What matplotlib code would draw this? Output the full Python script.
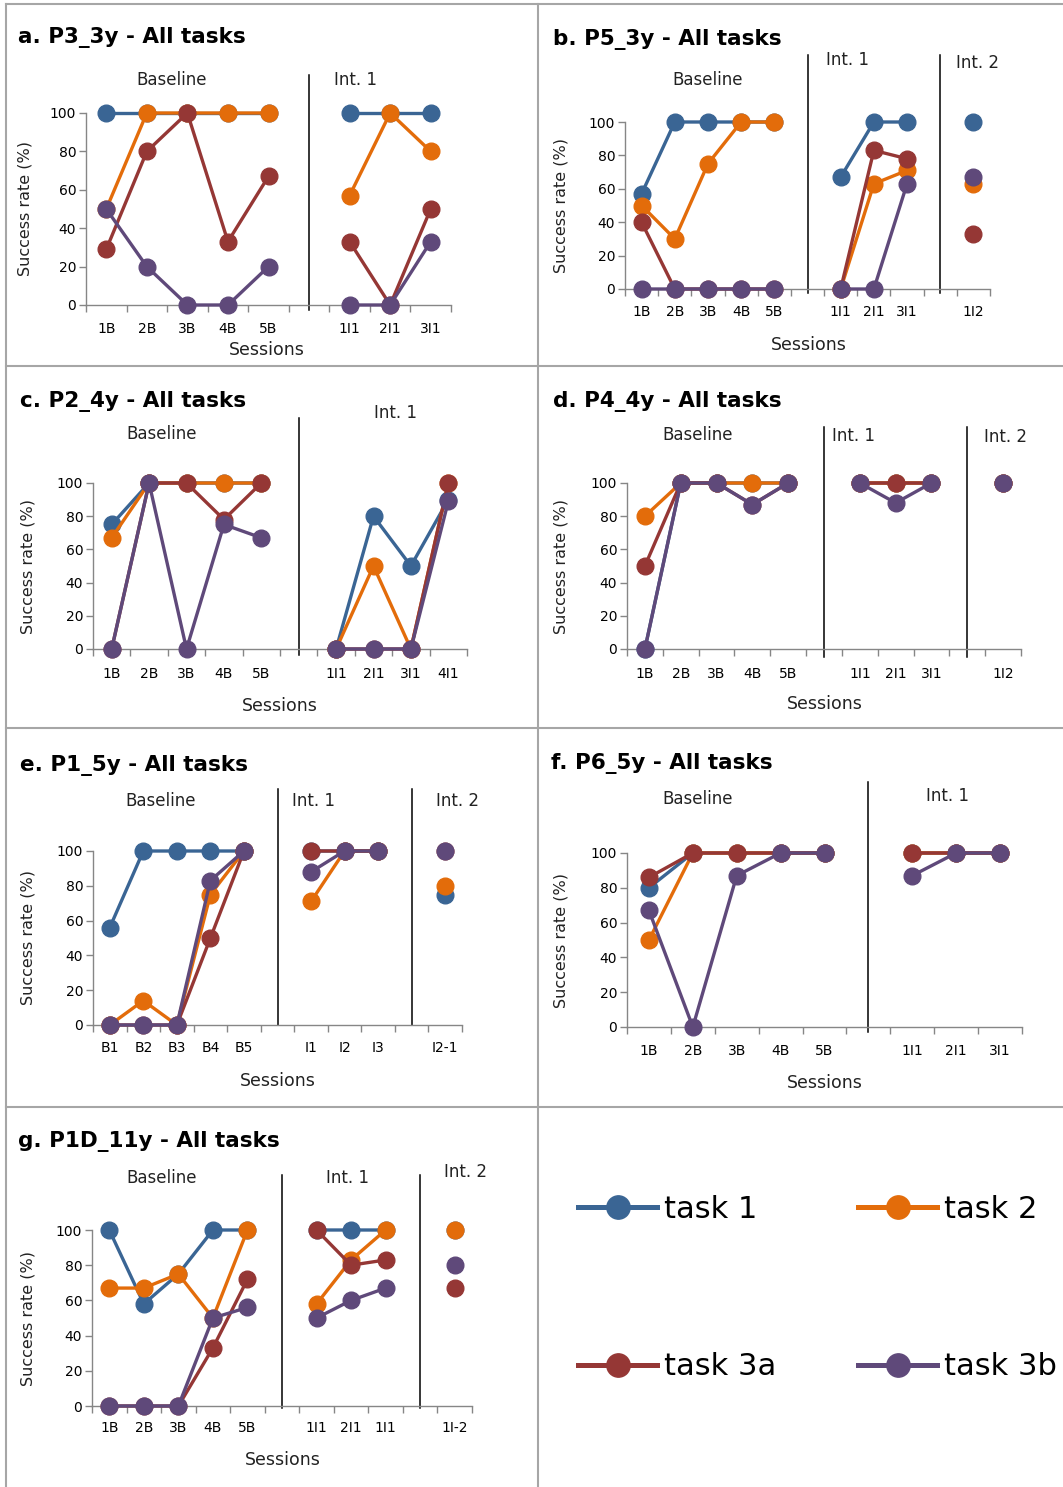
import numpy as np
import matplotlib
matplotlib.use("Agg")
import matplotlib.pyplot as plt
from matplotlib.lines import Line2D

W, H = 1063, 1487

TASKS = ["task 1", "task 2", "task 3a", "task 3b"]
COLORS = ["#3A6594", "#E36C0A", "#953735", "#5F497A"]
AXIS_GRAY = "#868686"
CELL_GRAY = "#A6A6A6"

N = None  # gap slot

# ---------------------------------------------------------------------------
# a. P3_3y
a_labels = ["1B", "2B", "3B", "4B", "5B", "", "1I1", "2I1", "3I1"]
a_task1 = [100, 100, 100, 100, 100, N, 100, 100, 100]
a_task2 = [50, 100, 100, 100, 100, N, 57, 100, 80]
a_task3a = [29, 80, 100, 33, 67, N, 33, 0, 50]
a_task3b = [50, 20, 0, 0, 20, N, 0, 0, 33]

# b. P5_3y
b_labels = ["1B", "2B", "3B", "4B", "5B", "", "1I1", "2I1", "3I1", "", "1I2"]
b_task1 = [57, 100, 100, 100, 100, N, 67, 100, 100, N, 100]
b_task2 = [50, 30, 75, 100, 100, N, 0, 63, 71, N, 63]
b_task3a = [40, 0, 0, 0, 0, N, 0, 83, 78, N, 33]
b_task3b = [0, 0, 0, 0, 0, N, 0, 0, 63, N, 67]

# c. P2_4y
c_labels = ["1B", "2B", "3B", "4B", "5B", "", "1I1", "2I1", "3I1", "4I1"]
c_task1 = [75, 100, 100, 100, 100, N, 0, 80, 50, 90]
c_task2 = [67, 100, 100, 100, 100, N, 0, 50, 0, 100]
c_task3a = [0, 100, 100, 78, 100, N, 0, 0, 0, 100]
c_task3b = [0, 100, 0, 75, 67, N, 0, 0, 0, 89]

# d. P4_4y
d_labels = ["1B", "2B", "3B", "4B", "5B", "", "1I1", "2I1", "3I1", "", "1I2"]
d_task1 = [0, 100, 100, 100, 100, N, 100, 100, 100, N, 100]
d_task2 = [80, 100, 100, 100, 100, N, 100, 100, 100, N, 100]
d_task3a = [50, 100, 100, 87, 100, N, 100, 100, 100, N, 100]
d_task3b = [0, 100, 100, 87, 100, N, 100, 88, 100, N, 100]

# e. P1_5y
e_labels = ["B1", "B2", "B3", "B4", "B5", "", "I1", "I2", "I3", "", "I2-1"]
e_task1 = [56, 100, 100, 100, 100, N, 100, 100, 100, N, 75]
e_task2 = [0, 14, 0, 75, 100, N, 71, 100, 100, N, 80]
e_task3a = [0, 0, 0, 50, 100, N, 100, 100, 100, N, 100]
e_task3b = [0, 0, 0, 83, 100, N, 88, 100, 100, N, 100]

# f. P6_5y
f_labels = ["1B", "2B", "3B", "4B", "5B", "", "1I1", "2I1", "3I1"]
f_task1 = [80, 100, 100, 100, 100, N, 100, 100, 100]
f_task2 = [50, 100, 100, 100, 100, N, 100, 100, 100]
f_task3a = [86, 100, 100, 100, 100, N, 100, 100, 100]
f_task3b = [67, 0, 87, 100, 100, N, 87, 100, 100]

# g. P1D_11y
g_labels = ["1B", "2B", "3B", "4B", "5B", "", "1I1", "2I1", "1I1", "", "1I-2"]
g_task1 = [100, 58, 75, 100, 100, N, 100, 100, 100, N, 100]
g_task2 = [67, 67, 75, 50, 100, N, 58, 83, 100, N, 100]
g_task3a = [0, 0, 0, 33, 72, N, 100, 80, 83, N, 67]
g_task3b = [0, 0, 0, 50, 56, N, 50, 60, 67, N, 80]

# ---------------------------------------------------------------------------
# layout, all in pixels measured from the top-left of the picture
panels = [
    dict(title="a. P3_3y - All tasks", labels=a_labels,
         series=[a_task1, a_task2, a_task3a, a_task3b],
         box=(86, 451, 305, 113), seps=[5], sep_span=(75, 310),
         title_xy=(18, 38), ylab_x=25, sess=(267, 350), tick_gap=25,
         phases=[("Baseline", 172, 80), ("Int. 1", 355, 80)]),
    dict(title="b. P5_3y - All tasks", labels=b_labels,
         series=[b_task1, b_task2, b_task3a, b_task3b],
         box=(625, 990, 289, 122), seps=[5, 9], sep_span=(55, 293),
         title_xy=(553, 39), ylab_x=561, sess=(809, 345), tick_gap=24,
         phases=[("Baseline", 708, 80), ("Int. 1", 848, 60), ("Int. 2", 978, 63)]),
    dict(title="c. P2_4y - All tasks", labels=c_labels,
         series=[c_task1, c_task2, c_task3a, c_task3b],
         box=(93, 467, 649, 483), seps=[5], sep_span=(418, 655),
         title_xy=(20, 402), ylab_x=28, sess=(280, 706), tick_gap=26,
         phases=[("Baseline", 162, 434), ("Int. 1", 396, 413)]),
    dict(title="d. P4_4y - All tasks", labels=d_labels,
         series=[d_task1, d_task2, d_task3a, d_task3b],
         box=(627, 1021, 649, 483), seps=[5, 9], sep_span=(427, 657),
         title_xy=(553, 401), ylab_x=561, sess=(825, 704), tick_gap=26,
         phases=[("Baseline", 698, 435), ("Int. 1", 853, 436), ("Int. 2", 1005, 437)]),
    dict(title="e. P1_5y - All tasks", labels=e_labels,
         series=[e_task1, e_task2, e_task3a, e_task3b],
         box=(93, 462, 1025, 851), seps=[5, 9], sep_span=(789, 1025),
         title_xy=(20, 765), ylab_x=28, sess=(278, 1081), tick_gap=24,
         phases=[("Baseline", 161, 801), ("Int. 1", 313, 801), ("Int. 2", 458, 801)]),
    dict(title="f. P6_5y - All tasks", labels=f_labels,
         series=[f_task1, f_task2, f_task3a, f_task3b],
         box=(627, 1022, 1027, 853), seps=[5], sep_span=(782, 1032),
         title_xy=(551, 764), ylab_x=561, sess=(825, 1083), tick_gap=25,
         phases=[("Baseline", 698, 799), ("Int. 1", 947, 796)]),
    dict(title="g. P1D_11y - All tasks", labels=g_labels,
         series=[g_task1, g_task2, g_task3a, g_task3b],
         box=(92, 472, 1406, 1230), seps=[5, 9], sep_span=(1175, 1408),
         title_xy=(18, 1142), ylab_x=28, sess=(283, 1460), tick_gap=23,
         phases=[("Baseline", 162, 1178), ("Int. 1", 347, 1178), ("Int. 2", 466, 1172)]),
]


def fx(px):
    return px / W


def fy(py):
    return 1 - py / H


fig = plt.figure(figsize=(W / 100, H / 100), dpi=100)
fig.patch.set_facecolor("white")

# cell borders
for xs, ys in [((6, 6), (4, H)), ((6, W), (4, 4)), ((538, 538), (4, H)),
               ((6, W), (366, 366)), ((6, W), (728, 728)), ((6, W), (1107, 1107))]:
    fig.add_artist(Line2D([fx(x) for x in xs], [fy(y) for y in ys],
                          color=CELL_GRAY, lw=1.5))

handles = None
for p in panels:
    left, right, y0, y100 = p["box"]
    ax = fig.add_axes([fx(left), fy(y0), (right - left) / W, (y0 - y100) / H])
    n = len(p["labels"])
    x = np.arange(n)
    lines = []
    for k, vals in enumerate(p["series"]):
        y = np.array(vals, dtype=float)
        ln, = ax.plot(x, y, color=COLORS[k], lw=2.4, marker="o", ms=12,
                      mec=COLORS[k], clip_on=False, zorder=3 + k, label=TASKS[k])
        lines.append(ln)
    if handles is None:
        handles = lines

    ax.set_xlim(-0.5, n - 0.5)
    ax.set_ylim(0, 100)
    ax.set_yticks(range(0, 101, 20))
    ax.set_xticks(np.arange(n + 1) - 0.5)
    ax.set_xticklabels([])
    ax.set_xticks(x, minor=True)
    ax.set_xticklabels(p["labels"], minor=True)
    ax.tick_params(axis="x", which="major", length=5, width=1, color=AXIS_GRAY)
    ax.tick_params(axis="x", which="minor", length=0,
                   pad=(p["tick_gap"] - 8) * 0.72, labelsize=10)
    ax.tick_params(axis="y", length=5, width=1, color=AXIS_GRAY, pad=2, labelsize=10)
    for s in ("top", "right"):
        ax.spines[s].set_visible(False)
    for s in ("left", "bottom"):
        ax.spines[s].set_color(AXIS_GRAY)
        ax.spines[s].set_linewidth(1)
    ax.patch.set_alpha(0)

    # phase separators
    top_px, bot_px = p["sep_span"]
    to_data = lambda py: (y0 - py) / (y0 - y100) * 100
    for s in p["seps"]:
        ax.plot([s, s], [to_data(bot_px), to_data(top_px)], color="black",
                lw=1.1, clip_on=False, zorder=2)

    tx, ty = p["title_xy"]
    fig.text(fx(tx), fy(ty), p["title"], fontsize=15.5, fontweight="bold",
             ha="left", va="center")
    for name, px, py in p["phases"]:
        fig.text(fx(px), fy(py), name, fontsize=12, ha="center", va="center",
                 color="#222222")
    sx, sy = p["sess"]
    fig.text(fx(sx), fy(sy), "Sessions", fontsize=12.5, ha="center", va="center",
             color="#222222")
    fig.text(fx(p["ylab_x"]), fy((y0 + y100) / 2), "Success rate (%)", fontsize=11.5,
             rotation=90, ha="center", va="center", color="#222222")

# legend in the empty bottom-right cell, filled row by row
order = [0, 2, 1, 3]
leg = fig.legend([handles[i] for i in order], [TASKS[i] for i in order],
                 ncol=2, loc="upper left",
                 bbox_to_anchor=(fx(578), fy(1195)), frameon=False,
                 fontsize=22, borderpad=0, borderaxespad=0,
                 handlelength=2.6, handletextpad=0.23, columnspacing=2.66,
                 labelspacing=4.2, markerscale=1.4)
for lh in leg.get_lines():
    lh.set_linewidth(3.6)

fig.savefig("out.png", dpi=100)
